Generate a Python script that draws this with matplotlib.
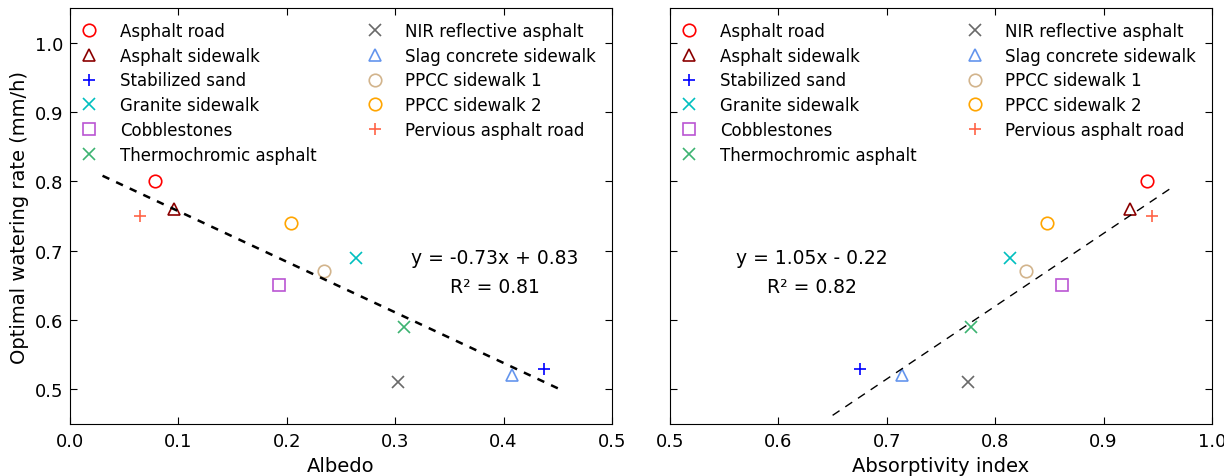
import numpy as np
import matplotlib
matplotlib.use("Agg")
import matplotlib.pyplot as plt

# pavement types, markers and colours
names = ["Asphalt road", "Asphalt sidewalk", "Stabilized sand", "Granite sidewalk",
         "Cobblestones", "Thermochromic asphalt", "NIR reflective asphalt",
         "Slag concrete sidewalk", "PPCC sidewalk 1", "PPCC sidewalk 2",
         "Pervious asphalt road"]
markers = ["o", "^", "+", "x", "s", "x", "x", "^", "o", "o", "+"]
colors = ["red", "darkred", "blue", "c", "mediumorchid", "mediumseagreen",
          "dimgray", "cornflowerblue", "tan", "orange", "tomato"]

# values
albedo = [0.078, 0.096, 0.437, 0.264, 0.193, 0.308, 0.303, 0.408, 0.234, 0.204, 0.065]
absorptivity = [0.94, 0.924, 0.675, 0.814, 0.862, 0.778, 0.775, 0.714, 0.828, 0.848, 0.945]
watering = [0.80, 0.76, 0.53, 0.69, 0.65, 0.59, 0.51, 0.52, 0.67, 0.74, 0.75]

# fitted lines shown on the chart
fit_left = (-0.73, 0.83)
fit_right = (1.05, -0.22)

plt.rcParams["font.size"] = 13
plt.rcParams["xtick.direction"] = "in"
plt.rcParams["ytick.direction"] = "in"
plt.rcParams["xtick.top"] = True
plt.rcParams["ytick.right"] = True
plt.rcParams["xtick.major.size"] = 5
plt.rcParams["ytick.major.size"] = 5
plt.rcParams["xtick.major.pad"] = 6
plt.rcParams["ytick.major.pad"] = 5

fig = plt.figure(figsize=(12.24, 4.77), dpi=100)
ax1 = fig.add_axes([0.0572, 0.109, 0.4428, 0.872])
ax2 = fig.add_axes([0.5474, 0.109, 0.4428, 0.872], sharey=ax1)

for i in range(len(names)):
    for ax, xs in ((ax1, albedo), (ax2, absorptivity)):
        ax.plot(xs[i], watering[i], linestyle="none", marker=markers[i],
                markersize=9, markeredgewidth=1.2, markerfacecolor="none",
                markeredgecolor=colors[i], label=names[i])

# trend lines
x = np.array([0.03, 0.45])
ax1.plot(x, fit_left[0] * x + fit_left[1], color="black", lw=1.8,
         linestyle=(0, (3, 3)))
x = np.array([0.65, 0.965])
ax2.plot(x, fit_right[0] * x + fit_right[1], color="black", lw=1.0,
         linestyle=(0, (6, 5)))

ax1.text(0.392, 0.69, "y = -0.73x + 0.83", ha="center", va="center", fontsize=13.5)
ax1.text(0.392, 0.648, "R\u00b2 = 0.81", ha="center", va="center", fontsize=13.5)
ax2.text(0.631, 0.69, "y = 1.05x - 0.22", ha="center", va="center", fontsize=13.5)
ax2.text(0.631, 0.648, "R\u00b2 = 0.82", ha="center", va="center", fontsize=13.5)

ax1.set_xlim(0.0, 0.5)
ax2.set_xlim(0.5, 1.0)
ax1.set_ylim(0.45, 1.05)
ax1.set_xticks(np.arange(0.0, 0.51, 0.1))
ax2.set_xticks(np.arange(0.5, 1.01, 0.1))
ax1.set_yticks(np.arange(0.5, 1.01, 0.1))
ax2.tick_params(labelleft=False)

ax1.set_xlabel("Albedo", fontsize=14)
ax2.set_xlabel("Absorptivity index", fontsize=14)
ax1.set_ylabel("Optimal watering rate (mm/h)", fontsize=14)

for ax in (ax1, ax2):
    ax.legend(loc="upper left", bbox_to_anchor=(0, 0.987), ncol=2, frameon=False,
              numpoints=1, fontsize=12, handlelength=1.28, handletextpad=1.2,
              columnspacing=2.86, labelspacing=0.41, borderpad=0.4,
              borderaxespad=0.1)

fig.savefig("out.png", dpi=100)
